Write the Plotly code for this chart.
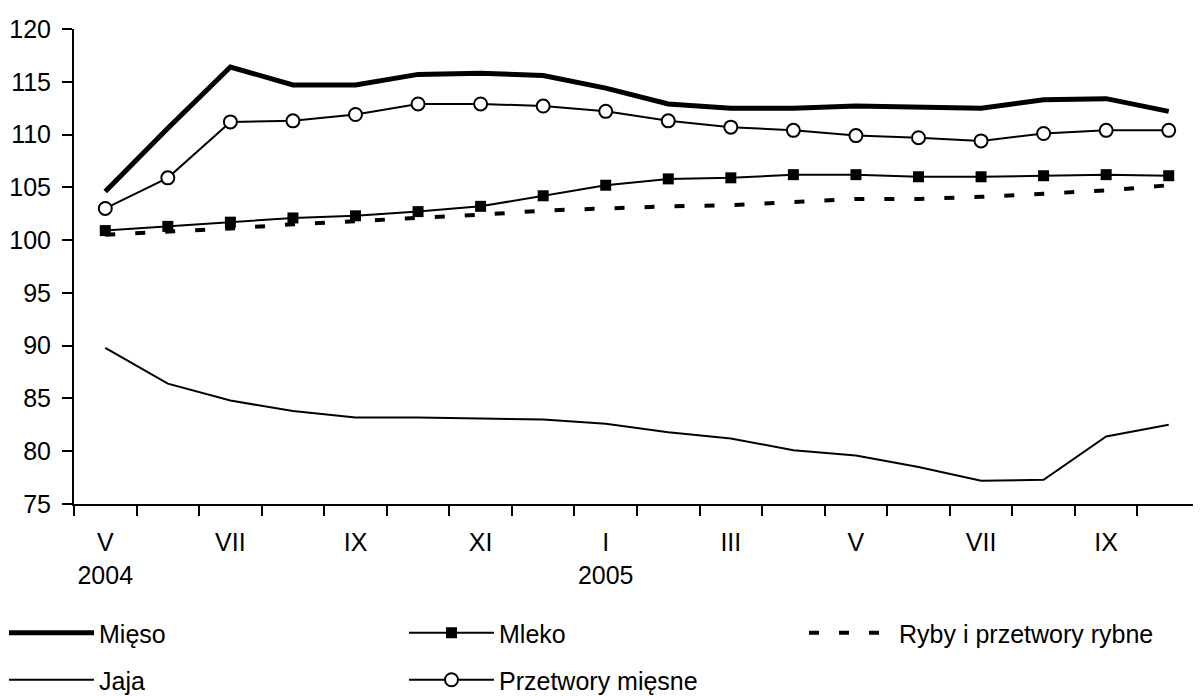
import plotly.graph_objects as go

months = ["2004-05", "2004-06", "2004-07", "2004-08", "2004-09", "2004-10", "2004-11", "2004-12",
          "2005-01", "2005-02", "2005-03", "2005-04", "2005-05", "2005-06", "2005-07", "2005-08",
          "2005-09", "2005-10"]
tick_labels = ["V<br>2004", "", "VII", "", "IX", "", "XI", "",
               "I<br>2005", "", "III", "", "V", "", "VII", "", "IX", ""]

mieso = [104.6, 110.6, 116.4, 114.7, 114.7, 115.7, 115.8, 115.6, 114.4, 112.9, 112.5, 112.5,
         112.7, 112.6, 112.5, 113.3, 113.4, 112.2]
mleko = [100.9, 101.3, 101.7, 102.1, 102.3, 102.7, 103.2, 104.2, 105.2, 105.8, 105.9, 106.2,
         106.2, 106.0, 106.0, 106.1, 106.2, 106.1]
ryby = [100.5, 100.8, 101.1, 101.5, 101.8, 102.1, 102.4, 102.8, 103.0, 103.2, 103.3, 103.6,
        103.9, 103.9, 104.1, 104.4, 104.7, 105.2]
jaja = [89.8, 86.4, 84.8, 83.8, 83.2, 83.2, 83.1, 83.0, 82.6, 81.8, 81.2, 80.1,
        79.6, 78.5, 77.2, 77.3, 81.4, 82.5]
przetwory = [103.0, 105.9, 111.2, 111.3, 111.9, 112.9, 112.9, 112.7, 112.2, 111.3, 110.7, 110.4,
             109.9, 109.7, 109.4, 110.1, 110.4, 110.4]

FONT = "Arial, Liberation Sans, sans-serif"
FS = 25

fig = go.Figure()
fig.add_trace(go.Scatter(x=months, y=mieso, name="Mięso", mode="lines",
                         line=dict(color="black", width=5), legend="legend"))
fig.add_trace(go.Scatter(x=months, y=mleko, name="Mleko", mode="lines+markers",
                         line=dict(color="black", width=2),
                         marker=dict(symbol="square", size=11, color="black"), legend="legend2"))
fig.add_trace(go.Scatter(x=months, y=ryby, name="Ryby i przetwory rybne", mode="lines",
                         line=dict(color="black", width=4, dash="10px,20px"), legend="legend3"))
fig.add_trace(go.Scatter(x=months, y=jaja, name="Jaja", mode="lines",
                         line=dict(color="black", width=2), legend="legend4"))
fig.add_trace(go.Scatter(x=months, y=przetwory, name="Przetwory mięsne", mode="lines+markers",
                         line=dict(color="black", width=2),
                         marker=dict(symbol="circle", size=13, color="white",
                                     line=dict(color="black", width=2)), legend="legend5"))

leg_common = dict(font=dict(family=FONT, size=FS, color="black"), bgcolor="rgba(0,0,0,0)",
                  borderwidth=0, xanchor="left", yanchor="middle", itemwidth=85)

# page pixel -> paper fraction (plot area spans x 74..1200, y 29..504 on the page)
def py(pix_y):
    return (504 - pix_y) / 475.0

def px(pix_x):
    return (pix_x - 74) / 1126.0

# page body has an 8px margin; figure is sized so the plot area lands where it should
fig.update_layout(
    width=1193, height=688,
    margin=dict(l=66, r=1, t=21, b=192, autoexpand=False),
    paper_bgcolor="white", plot_bgcolor="white",
    font=dict(family=FONT, size=FS, color="black"),
    showlegend=True,
    legend=dict(x=px(4), y=py(633), **leg_common),
    legend2=dict(x=px(404), y=py(633), **leg_common),
    legend3=dict(x=px(804), y=py(633), **leg_common),
    legend4=dict(x=px(4), y=py(680), **leg_common),
    legend5=dict(x=px(404), y=py(680), **leg_common),
    xaxis=dict(type="category", tickmode="array", tickvals=months, ticktext=tick_labels,
               tickson="boundaries", ticks="outside", ticklen=10, tickwidth=2, tickcolor="black",
               tickangle=0, automargin=False, ticklabelstandoff=15,
               showline=True, linecolor="black", linewidth=2, showgrid=False, zeroline=False,
               range=[-0.5, 17.5], tickfont=dict(family=FONT, size=FS, color="black")),
    yaxis=dict(range=[75, 120], tickmode="linear", tick0=75, dtick=5, automargin=False,
               ticks="outside", ticklen=10, tickwidth=2, tickcolor="black", ticklabelstandoff=6,
               showline=True, linecolor="black", linewidth=2, showgrid=False, zeroline=False,
               tickfont=dict(family=FONT, size=FS, color="black")),
)

fig.write_html("out.html")
